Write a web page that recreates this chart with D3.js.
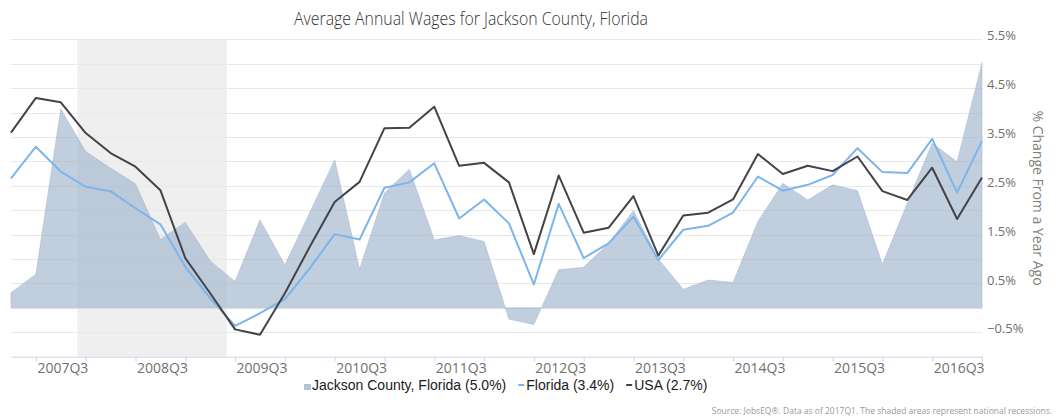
<!DOCTYPE html>
<html>
<head>
<meta charset="utf-8">
<script src="https://cdn.jsdelivr.net/npm/d3@7"></script>
<style>
  body { margin: 0; background: #fff; }
</style>
</head>
<body>
<div id="chart"></div>
<script>
var quarters = ["2007Q2", "2007Q3", "2007Q4", "2008Q1", "2008Q2", "2008Q3", "2008Q4", "2009Q1",
    "2009Q2", "2009Q3", "2009Q4", "2010Q1", "2010Q2", "2010Q3", "2010Q4", "2011Q1",
    "2011Q2", "2011Q3", "2011Q4", "2012Q1", "2012Q2", "2012Q3", "2012Q4", "2013Q1",
    "2013Q2", "2013Q3", "2013Q4", "2014Q1", "2014Q2", "2014Q3", "2014Q4", "2015Q1",
    "2015Q2", "2015Q3", "2015Q4", "2016Q1", "2016Q2", "2016Q3", "2016Q4", "2017Q1"];

var jackson = [0.31, 0.69, 4.07, 3.20, 2.86, 2.54, 1.40, 1.75, 0.96, 0.54,
    1.80, 0.88, 1.95, 3.03, 0.79, 2.35, 2.84, 1.39, 1.48, 1.36,
    -0.23, -0.34, 0.78, 0.83, 1.32, 1.99, 1.00, 0.38, 0.57, 0.52,
    1.77, 2.55, 2.21, 2.52, 2.40, 0.89, 2.14, 3.37, 2.99, 5.02];

var florida = [2.65, 3.30, 2.79, 2.48, 2.39, 2.04, 1.71, 0.84, 0.20, -0.37,
    -0.11, 0.18, 0.81, 1.51, 1.40, 2.46, 2.57, 2.96, 1.83, 2.22,
    1.73, 0.48, 2.13, 1.02, 1.32, 1.87, 0.98, 1.60, 1.68, 1.95,
    2.69, 2.40, 2.52, 2.72, 3.27, 2.78, 2.76, 3.46, 2.36, 3.42];

var usa = [3.59, 4.30, 4.21, 3.58, 3.17, 2.89, 2.41, 1.02, 0.30, -0.44,
    -0.55, 0.30, 1.25, 2.17, 2.58, 3.68, 3.69, 4.12, 2.91, 2.97,
    2.57, 1.10, 2.71, 1.54, 1.64, 2.29, 1.07, 1.89, 1.95, 2.22,
    3.15, 2.74, 2.91, 2.80, 3.10, 2.39, 2.21, 2.87, 1.82, 2.67];

// national recession, start and end month
var recessions = [[2007, 12, 2009, 6]];

var yTicks = [-0.5, 0.5, 1.5, 2.5, 3.5, 4.5, 5.5];
var gridValues = [-0.5, 0, 0.5, 1, 1.5, 2, 2.5, 3, 3.5, 4, 4.5, 5, 5.5];

var seriesInfo = [
    {name: "Jackson County, Florida", last: jackson[jackson.length - 1]},
    {name: "Florida", last: florida[florida.length - 1]},
    {name: "USA", last: usa[usa.length - 1]}
];

var width = 1057, height = 418;
var svg = d3.select("#chart").append("svg")
    .attr("width", width)
    .attr("height", height)
    .style("font-family", "'Open Sans', sans-serif");

var x = d3.scaleLinear().domain([0, quarters.length - 1]).range([11, 982]);
var y = d3.scaleLinear().domain([-1, 5.5]).range([356.7, 39.3]);

// month -> position in quarter index units (index 0 = 2007Q2)
var monthPos = function (yr, m) {
    return (yr - 2007) * 4 - 1 + (m - 1) / 3;
};

// recession bands
svg.append("g").selectAll("rect")
    .data(recessions)
    .enter().append("rect")
    .attr("x", function (d) { return x(monthPos(d[0], d[1])); })
    .attr("width", function (d) { return x(monthPos(d[2], d[3])) - x(monthPos(d[0], d[1])); })
    .attr("y", y(5.5))
    .attr("height", y(-1) - y(5.5))
    .attr("fill", "#efefef");

// gridlines
svg.append("g").selectAll("line")
    .data(gridValues)
    .enter().append("line")
    .attr("x1", x(0)).attr("x2", x(quarters.length - 1))
    .attr("y1", function (d) { return Math.round(y(d)) + 0.5; })
    .attr("y2", function (d) { return Math.round(y(d)) + 0.5; })
    .attr("stroke", "#e8e8e8")
    .attr("stroke-width", 1);

// Jackson County area
var area = d3.area()
    .x(function (d, i) { return x(i); })
    .y0(y(0))
    .y1(function (d) { return y(d); });

svg.append("path")
    .datum(jackson)
    .attr("d", area)
    .attr("fill", "#9fb4cd")
    .attr("fill-opacity", 0.65)
    .attr("stroke", "#9fb4cd")
    .attr("stroke-opacity", 0.5)
    .attr("stroke-width", 1);

var line = d3.line()
    .x(function (d, i) { return x(i); })
    .y(function (d) { return y(d); });

svg.append("path")
    .datum(florida)
    .attr("d", line)
    .attr("fill", "none")
    .attr("stroke", "#7cb5ec")
    .attr("stroke-width", 2)
    .attr("stroke-linejoin", "round");

svg.append("path")
    .datum(usa)
    .attr("d", line)
    .attr("fill", "none")
    .attr("stroke", "#434348")
    .attr("stroke-width", 2)
    .attr("stroke-linejoin", "round");

// x axis
var tickIdx = d3.range(1, quarters.length, 2);
var xAxis = d3.axisBottom(x)
    .tickValues(tickIdx)
    .tickSize(5)
    .tickSizeOuter(0)
    .tickFormat(function (i) { return (i - 1) % 4 === 0 ? quarters[i] : ""; });

var gx = svg.append("g")
    .attr("transform", "translate(0," + y(-1) + ")")
    .call(xAxis);
gx.select(".domain").attr("stroke", "#ccd6eb");
gx.selectAll(".tick line").attr("stroke", "#ccd6eb");
gx.selectAll("text")
    .attr("text-anchor", "start")
    .attr("x", 1)
    .attr("y", 6)
    .attr("fill", "#707070")
    .style("font-size", "14px")
    .style("font-family", "'Open Sans', sans-serif");

// y axis (right)
var yAxis = d3.axisRight(y)
    .tickValues(yTicks)
    .tickSize(0)
    .tickPadding(5)
    .tickFormat(function (d) { return d3.format(".1f")(d) + "%"; });

var gy = svg.append("g")
    .attr("transform", "translate(" + x(quarters.length - 1) + ",0)")
    .call(yAxis);
gy.select(".domain").remove();
gy.selectAll("text")
    .attr("dy", "0.05em")
    .attr("fill", "#707070")
    .style("font-size", "13px")
    .style("font-family", "'Open Sans', sans-serif");

svg.append("text")
    .attr("transform", "translate(1033," + (y(5.5) + y(-1)) / 2 + ") rotate(90)")
    .attr("text-anchor", "middle")
    .attr("fill", "#808080")
    .style("font-size", "14px")
    .text("% Change From a Year Ago");

// title
svg.append("text")
    .attr("x", 471)
    .attr("y", 25)
    .attr("text-anchor", "middle")
    .attr("fill", "#333333")
    .style("font-size", "19px")
    .style("font-weight", "300")
    .attr("textLength", 354)
    .attr("lengthAdjust", "spacingAndGlyphs")
    .text("Average Annual Wages for Jackson County, Florida");

// legend
var legend = svg.append("g").style("font-family", "'Liberation Sans', Arial, sans-serif");
var legendX = 304, legendY = 390;
seriesInfo.forEach(function (s, k) {
    var g = legend.append("g");
    if (k === 0) {
        g.append("rect").attr("x", legendX).attr("y", legendY - 6)
            .attr("width", 7).attr("height", 6).attr("fill", "#b3c3d7");
    } else {
        g.append("rect").attr("x", legendX).attr("y", legendY - 6)
            .attr("width", 6).attr("height", 2)
            .attr("fill", k === 1 ? "#7cb5ec" : "#434348");
    }
    var t = g.append("text")
        .attr("x", legendX + 8)
        .attr("y", legendY)
        .attr("fill", "#1a1a1a")
        .style("font-size", "14px")
        .text(s.name + " (" + s.last.toFixed(1) + "%)");
    legendX += 8 + t.node().getComputedTextLength() + 12;
});

svg.append("text")
    .attr("x", 1052)
    .attr("y", 414)
    .attr("text-anchor", "end")
    .attr("fill", "#999")
    .style("font-size", "8.5px")
    .text("Source: JobsEQ\u00ae. Data as of 2017Q1. The shaded areas represent national recessions.");
</script>
</body>
</html>
